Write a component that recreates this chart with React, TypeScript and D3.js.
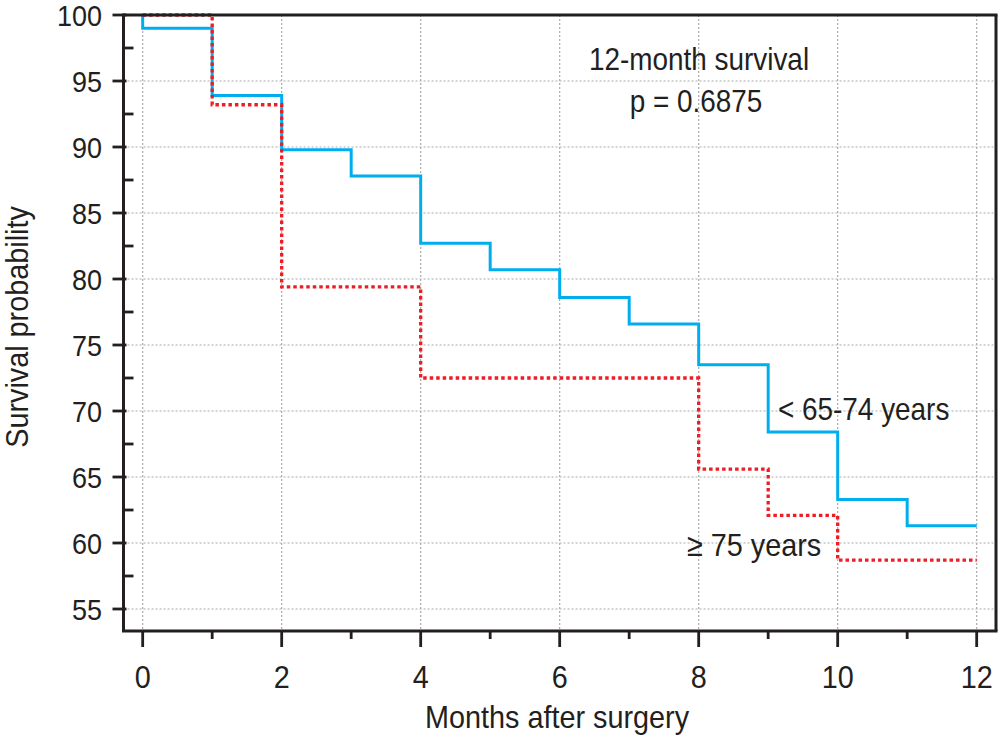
import React from "react";
import * as d3 from "d3";

const W = 998;
const H = 739;

// Data
const blueTimes = [0, 0, 1, 2, 3, 4, 5, 6, 7, 8, 9, 10, 11, 12];
const blueValues = [100, 99, 93.9, 89.8, 87.8, 82.7, 80.7, 78.6, 76.6, 73.5, 68.4, 63.3, 61.3, 61.3];
const redTimes = [0, 1, 2, 4, 8, 9, 10, 12];
const redValues = [100, 93.2, 79.4, 72.5, 65.6, 62.1, 58.7, 58.7];

const xMajorTicks = [0, 2, 4, 6, 8, 10, 12];
const xMinorTicks = [1, 3, 5, 7, 9, 11];
const yMajorTicks = [55, 60, 65, 70, 75, 80, 85, 90, 95, 100];
const yMinorTicks = [57.5, 62.5, 67.5, 72.5, 77.5, 82.5, 87.5, 92.5, 97.5];
const yGrid = [55, 60, 65, 70, 75, 80, 85, 90, 95];

const titleLines = ["12-month survival", "p = 0.6875"];
const blueLabel = "< 65-74 years";
const redLabel = "\u2265 75 years";
const xTitle = "Months after surgery";
const yTitle = "Survival probability";

const LEFT = 123.5;
const RIGHT = 996;
const TOP = 15;
const BOTTOM = 631;

const x = d3.scaleLinear().domain([-0.276, 12.278]).range([LEFT, RIGHT]);
const y = d3.scaleLinear().domain([53.333, 100]).range([BOTTOM, TOP]);

const INK = "#231f20";
const FONT = "'Liberation Sans', Arial, Helvetica, sans-serif";
const SX = 0.9;

function T({ x: tx, y: ty, size, anchor = "start", rotate = 0, children }: any) {
  return (
    <text
      transform={`translate(${tx},${ty}) rotate(${rotate}) scale(${SX},1)`}
      fontSize={size}
      textAnchor={anchor}
      fontFamily={FONT}
      fill={INK}
    >
      {children}
    </text>
  );
}

export default function App() {
  const line = d3
    .line<[number, number]>()
    .x((d) => x(d[0]))
    .y((d) => y(d[1]))
    .curve(d3.curveStepAfter);

  const bluePts = blueTimes.map((t, i) => [t, blueValues[i]] as [number, number]);
  const redPts = redTimes.map((t, i) => [t, redValues[i]] as [number, number]);

  return (
    <svg
      width={W}
      height={H}
      style={{ position: "absolute", left: 0, top: 0, background: "#fff" }}
    >
      <rect x={0} y={0} width={W} height={H} fill="#fff" />
      {/* grid */}
      <g stroke="#aaaaaa" strokeWidth={1.2} strokeDasharray="2,2">
        {xMajorTicks.map((t) => (
          <line key={"vx" + t} x1={x(t)} x2={x(t)} y1={TOP} y2={BOTTOM} />
        ))}
        {yGrid.map((v) => (
          <line key={"hy" + v} x1={LEFT} x2={RIGHT} y1={y(v)} y2={y(v)} />
        ))}
      </g>

      {/* curves */}
      <path d={line(bluePts) || ""} fill="none" stroke="#00aeef" strokeWidth={3} />
      <path
        d={line(redPts) || ""}
        fill="none"
        stroke="#ee1c25"
        strokeWidth={3.3}
        strokeDasharray="3.5,3"
      />

      {/* frame */}
      <g stroke={INK} strokeWidth={3} fill="none">
        <line x1={LEFT} x2={RIGHT + 1.5} y1={TOP} y2={TOP} />
        <line x1={RIGHT} x2={RIGHT} y1={TOP} y2={BOTTOM} />
        <line x1={LEFT - 1.5} x2={RIGHT + 1.5} y1={BOTTOM} y2={BOTTOM} />
        <line x1={LEFT} x2={LEFT} y1={TOP - 1.5} y2={BOTTOM} />
      </g>

      {/* ticks */}
      <g stroke={INK} strokeWidth={2.8}>
        {yMajorTicks.map((v) => (
          <line key={"ym" + v} x1={LEFT - 11} x2={LEFT + 3} y1={y(v)} y2={y(v)} />
        ))}
        {yMinorTicks.map((v) => (
          <line key={"yn" + v} x1={LEFT} x2={LEFT + 10} y1={y(v)} y2={y(v)} />
        ))}
        {xMajorTicks.map((t) => (
          <line key={"xm" + t} x1={x(t)} x2={x(t)} y1={BOTTOM} y2={BOTTOM + 16} />
        ))}
        {xMinorTicks.map((t) => (
          <line key={"xn" + t} x1={x(t)} x2={x(t)} y1={BOTTOM} y2={BOTTOM + 8} />
        ))}
      </g>

      {/* tick labels */}
      {yMajorTicks.map((v) => (
        <T key={"yl" + v} x={102} y={y(v) + 11} size={30} anchor="end">
          {v}
        </T>
      ))}
      {xMajorTicks.map((t) => (
        <T key={"xl" + t} x={x(t)} y={688} size={32} anchor="middle">
          {t}
        </T>
      ))}

      {/* axis titles */}
      <T x={557} y={728} size={32} anchor="middle">
        {xTitle}
      </T>
      <T x={28} y={327} size={32} anchor="middle" rotate={-90}>
        {yTitle}
      </T>

      {/* annotations */}
      <T x={699} y={70} size={31} anchor="middle">
        {titleLines[0]}
      </T>
      <T x={696} y={112} size={31} anchor="middle">
        {titleLines[1]}
      </T>
      <T x={778} y={420} size={31}>
        {blueLabel}
      </T>
      <T x={687} y={556} size={32}>
        {redLabel}
      </T>
    </svg>
  );
}
